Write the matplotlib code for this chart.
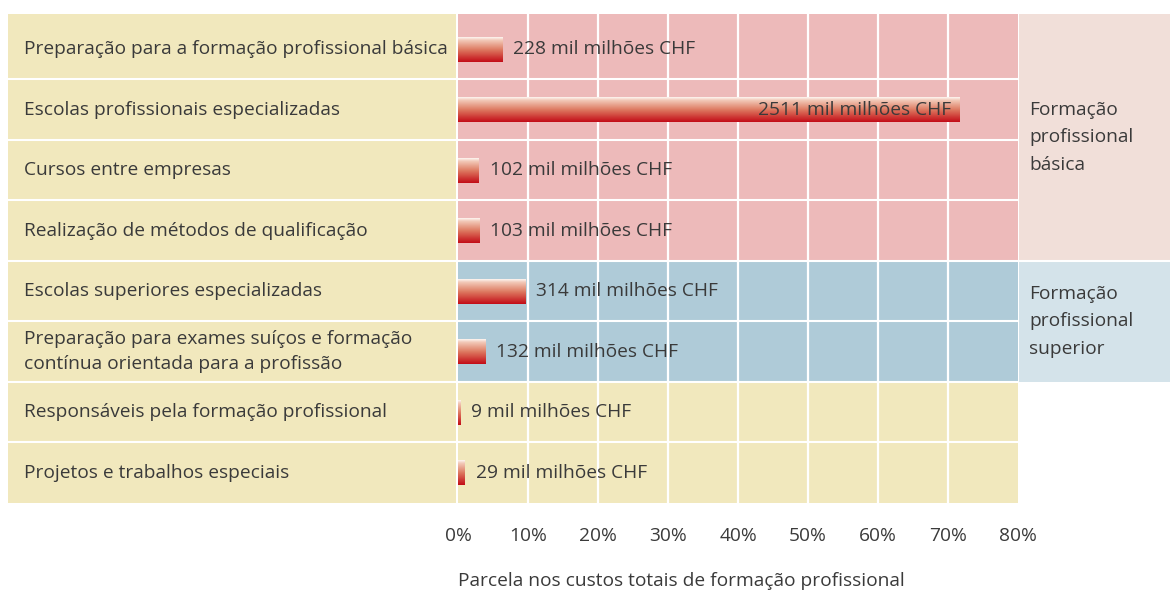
import numpy as np
import matplotlib.pyplot as plt
from matplotlib.colors import LinearSegmentedColormap

plt.rcParams['font.family'] = ['Open Sans', 'DejaVu Sans']

# data
categories = [
    'Preparação para a formação profissional básica',
    'Escolas profissionais especializadas',
    'Cursos entre empresas',
    'Realização de métodos de qualificação',
    'Escolas superiores especializadas',
    'Preparação para exames suíços e formação\ncontínua orientada para a profissão',
    'Responsáveis pela formação profissional',
    'Projetos e trabalhos especiais',
]
values_mio = [228, 2511, 102, 103, 314, 132, 9, 29]          # mil milhões CHF
share_pct = [6.4, 71.7, 3.0, 3.1, 9.7, 4.0, 0.4, 1.0]      # % of total cost
row_group = ['basica'] * 4 + ['superior'] * 2 + [None] * 2
group_names = ['basica', 'superior']
group_labels = ['Formação\nprofissional\nbásica', 'Formação\nprofissional\nsuperior']
xticks = [0, 10, 20, 30, 40, 50, 60, 70, 80]

# style
W, H = 1170, 592
txt = '#3a3a3a'
beige = '#f1e8bd'
row_col = {'basica': '#edbaba', 'superior': '#afcbd8', None: beige}
grp_col = {'basica': '#f1dfd9', 'superior': '#d4e3ea'}
cmap = LinearSegmentedColormap.from_list(
    'bar', [(0, '#fdf4f0'), (0.12, '#f2c9b8'), (0.5, '#de7b62'), (1, '#c30d18')])
fs = 13.8
n = len(categories)
bar_h = 0.41
ytop = -0.08   # first row is a little taller


def box(x0, y0, x1, y1):
    return [x0 / W, 1 - y1 / H, (x1 - x0) / W, (y1 - y0) / H]


fig = plt.figure(figsize=(W / 100, H / 100), dpi=100)
ax_lab = fig.add_axes(box(8, 14, 456, 503))
ax = fig.add_axes(box(458, 14, 1018, 503))
ax_grp = fig.add_axes(box(1019, 14, 1170, 503))

# label panel
ax_lab.set_xlim(0, 448)
ax_lab.set_ylim(n, ytop)
ax_lab.add_patch(plt.Rectangle((0, ytop), 448, n - ytop, color=beige, lw=0, zorder=0))
for i, c in enumerate(categories):
    ax_lab.text(16, i + 0.5, c, va='center', ha='left', fontsize=fs,
                color=txt, linespacing=1.5)
for i in range(1, n):
    ax_lab.axhline(i, color='white', lw=1.5)
ax_lab.axis('off')

# bar panel
for i, g in enumerate(row_group):
    ax.axhspan(ytop if i == 0 else i, i + 1, color=row_col[g], lw=0, zorder=0)
for x in xticks[1:-1]:
    ax.axvline(x, color='white', lw=1.6, zorder=1)
for i in range(1, n):
    ax.axhline(i, color='white', lw=1.5, zorder=1)

grad = np.linspace(0, 1, 64).reshape(-1, 1)
for i, (v, s) in enumerate(zip(values_mio, share_pct)):
    yc = i + 0.5
    ax.imshow(grad, cmap=cmap, aspect='auto', origin='upper', zorder=2,
              extent=(0, s, yc + bar_h / 2, yc - bar_h / 2))
    lab = f'{v} mil milhões CHF'
    if s > 40:
        ax.text(s - 1.3, yc, lab, ha='right', va='center', fontsize=fs,
                color=txt, zorder=3)
    else:
        ax.text(s + 1.5, yc, lab, ha='left', va='center', fontsize=fs,
                color=txt, zorder=3)

ax.set_xlim(0, 80)
ax.set_ylim(n, ytop)
ax.set_xticks(xticks)
ax.set_xticklabels([f'{x}%' for x in xticks], fontsize=fs, color=txt)
ax.set_yticks([])
ax.tick_params(axis='x', length=0, pad=17)
for sp in ax.spines.values():
    sp.set_visible(False)
ax.set_xlabel('Parcela nos custos totais de formação profissional',
              fontsize=fs, color=txt, labelpad=20, loc='left')

# group panel
ax_grp.set_xlim(0, 151)
ax_grp.set_ylim(n, ytop)
for g, gl in zip(group_names, group_labels):
    rows = [i for i, r in enumerate(row_group) if r == g]
    top, bot = min(rows), max(rows) + 1
    if top == 0:
        top = ytop
    ax_grp.add_patch(plt.Rectangle((0, top), 151, bot - top,
                                   color=grp_col[g], lw=0))
    ax_grp.text(10, (top + bot) / 2, gl, ha='left', va='center',
                fontsize=fs, color=txt, linespacing=1.65)
ax_grp.axhline(4, color='white', lw=1.5)
ax_grp.axis('off')

fig.savefig('out.png', dpi=100)
